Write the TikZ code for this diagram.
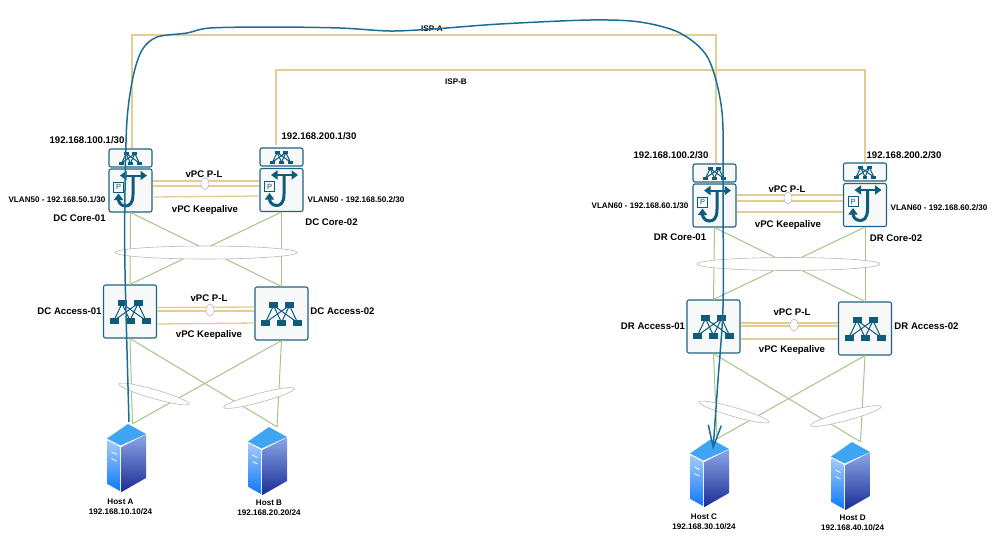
\documentclass[tikz,border=0pt]{standalone}
\usepackage{fontspec}
\setmainfont{Liberation Sans}
\usetikzlibrary{arrows.meta,shapes.geometric}
\definecolor{ciscoteal}{HTML}{0F5B7E}
\definecolor{boxedge}{HTML}{1F6283}
\definecolor{boxfill}{HTML}{F7F8F8}
\definecolor{isptan}{HTML}{E3CD96}
\definecolor{linkgreen}{HTML}{A3C586}
\definecolor{flowblue}{HTML}{1B6F97}
\definecolor{srvtop}{HTML}{3FA4F2}
\definecolor{srvleftA}{HTML}{A5CCFA}
\definecolor{srvleftB}{HTML}{0F78FA}
\definecolor{srvrightA}{HTML}{8CA6E6}
\definecolor{srvrightB}{HTML}{1A2C96}
\tikzset{
	devbox/.style={draw=boxedge,line width=1.1pt,rounded corners=2pt,fill=boxfill,inner sep=0pt},
	topbox/.style={devbox,minimum width=43,minimum height=18},
	corebox/.style={devbox,minimum size=43},
	accessbox/.style={devbox,minimum size=53},
	hostbox/.style={inner sep=0pt,minimum width=39,minimum height=68},
	isp/.style={draw=isptan,line width=1.3pt},
	link/.style={draw=linkgreen,line width=1pt},
	lag/.style={ellipse,draw=gray!55,line width=.6pt,fill=white,inner sep=0pt},
	biglabel/.style={font=\bfseries\fontsize{9.6}{11}\selectfont,inner sep=0pt},
	smalllabel/.style={font=\bfseries\fontsize{8.1}{10}\selectfont,inner sep=0pt},
	pics/netmark/.style={code={
		\foreach \tx in {-8,8} {
			\foreach \bx in {-16,0,16} {
				\draw[ciscoteal,line width=1pt] (\tx,-8) -- (\bx,9);
			}
			\fill[ciscoteal] (\tx-4.5,-11.5) rectangle (\tx+4.5,-5.5);
		}
		\foreach \bx in {-16,0,16} {
			\fill[ciscoteal] (\bx-4.5,6.5) rectangle (\bx+4.5,12.5);
		}
	}},
	pics/coremark/.style={code={
		\draw[ciscoteal,line width=2pt,{Triangle[length=6.5pt,width=9pt]}-{Triangle[length=6.5pt,width=9pt]}] (-10.5,-15) -- (16.5,-15);
		\draw[ciscoteal,line width=3pt,-{Triangle[length=6.5pt,width=9pt]}] (2.5,-15) -- (2.5,4) .. controls (2.5,13) and (-1,15.5) .. (-5,15.5) .. controls (-10,15.5) and (-12,11) .. (-12,3);
		\node[draw=ciscoteal,line width=.7pt,fill=boxfill,text=ciscoteal,font=\fontsize{7.5}{8}\selectfont,minimum size=10,inner sep=0pt] (p) at (-12,-3.5) {P};
	}},
	pics/servermark/.style={code={
		\shade[top color=srvleftA,bottom color=srvleftB] (-19,-18) -- (-6.5,-11) -- (-6.5,33) -- (-19,26) -- cycle;
		\shade[top color=srvrightA,bottom color=srvrightB] (-5,-11) -- (19.5,-23.5) -- (19.5,20) -- (-5,34) -- cycle;
		\fill[srvtop] (1.5,-34) -- (19.5,-24) -- (-6,-12.5) -- (-19.5,-19.5) -- cycle;
		\draw[white,line width=.7pt] (-15,-6) -- (-10,-3.5) (-15,.5) -- (-10,3);
	}}
}
\begin{document}
\begin{tikzpicture}[x=1pt,y=-1pt]
	\useasboundingbox (0,0) rectangle (998,542);
	\node[topbox] (dcTop01) at (130.5,158) {};
	\node[topbox] (dcTop02) at (281.5,157) {};
	\node[corebox] (dcCore01) at (130.5,190.5) {};
	\node[corebox] (dcCore02) at (281.5,190) {};
	\node[accessbox] (dcAccess01) at (130,311.5) {};
	\node[accessbox] (dcAccess02) at (281.5,313.5) {};
	\node[hostbox] (hostA) at (126.5,458) {};
	\node[hostbox] (hostB) at (267.5,461) {};
	\node[topbox] (drTop01) at (714.5,173) {};
	\node[topbox] (drTop02) at (865,172) {};
	\node[corebox] (drCore01) at (714.5,205.5) {};
	\node[corebox] (drCore02) at (865,205) {};
	\node[accessbox] (drAccess01) at (713.5,326.5) {};
	\node[accessbox] (drAccess02) at (865,328.5) {};
	\node[hostbox] (hostC) at (709.5,473) {};
	\node[hostbox] (hostD) at (850.5,476) {};

	\foreach \nm in {dcTop01,dcTop02,drTop01,drTop02} {
		\pic[scale=.55] (\nm Icon) at (\nm) {netmark};
	}
	\foreach \nm in {dcAccess01,dcAccess02,drAccess01,drAccess02} {
		\pic (\nm Icon) at (\nm) {netmark};
	}
	\foreach \nm in {dcCore01,dcCore02,drCore01,drCore02} {
		\pic (\nm Icon) at (\nm) {coremark};
	}
	\foreach \nm in {hostA,hostB,hostC,hostD} {
		\pic (\nm Icon) at (\nm) {servermark};
	}

	\foreach \up/\lo in {dcCore01/dcAccess01,dcCore01/dcAccess02,dcCore02/dcAccess01,dcCore02/dcAccess02,drCore01/drAccess01,drCore01/drAccess02,drCore02/drAccess01,drCore02/drAccess02} {
		\draw[link] (\up.south) -- (\lo.north);
	}
	\draw[link] (dcAccess01.south) -- ([xshift=6]hostA.north);
	\draw[link] (dcAccess01.south) -- ([xshift=9.5]hostB.north);
	\draw[link] (dcAccess02.south) -- ([xshift=6]hostA.north);
	\draw[link] (dcAccess02.south) -- ([xshift=9.5]hostB.north);
	\draw[link] (drAccess01.south) -- ([xshift=7.5]hostC.north);
	\draw[link] (drAccess01.south) -- ([xshift=10]hostD.north);
	\draw[link] (drAccess02.south) -- ([xshift=7.5]hostC.north);
	\draw[link] (drAccess02.south) -- ([xshift=10]hostD.north);

	\node[lag,minimum width=182,minimum height=13] (dcCoreLag) at (206,252.5) {};
	\node[lag,minimum width=73,minimum height=9,rotate=-16] (dcHostLagA) at (154,394) {};
	\node[lag,minimum width=73,minimum height=9,rotate=15] (dcHostLagB) at (259,398) {};
	\node[lag,minimum width=183,minimum height=13] (drCoreLag) at (788.5,264) {};
	\node[lag,minimum width=73,minimum height=9,rotate=-16] (drHostLagA) at (734,412) {};
	\node[lag,minimum width=73,minimum height=9,rotate=15] (drHostLagB) at (846,416) {};

	\coordinate (ispA) at (432,35);
	\coordinate (ispB) at (456,70);
	\draw[isp] ([xshift=1.5]dcTop01.north) |- (ispA) -| ([xshift=1.5]drTop01.north);
	\draw[isp] ([xshift=-5.5,yshift=2]dcTop02.north) |- (ispB) -| (drTop02.north);

	\draw[isp] ([yshift=9.5]dcCore01.east) -- ([yshift=9]dcCore02.west);
	\draw[isp] ([yshift=4.5]dcCore01.east) -- ([yshift=4]dcCore02.west);
	\draw[isp] ([yshift=-6.5]dcCore01.east) -- ([yshift=-6]dcCore02.west);
	\draw[isp] ([yshift=4]dcAccess01.east) -- ([yshift=6.5]dcAccess02.west);
	\draw[isp] ([yshift=.5]dcAccess01.east) -- ([yshift=2.5]dcAccess02.west);
	\draw[isp] ([yshift=-12.5]dcAccess01.east) -- ([yshift=-9.5]dcAccess02.west);
	\draw[isp] ([yshift=10.5]drCore01.east) -- ([yshift=10]drCore02.west);
	\draw[isp] ([yshift=4.5]drCore01.east) -- ([yshift=4]drCore02.west);
	\draw[isp] ([yshift=-6.5]drCore01.east) -- ([yshift=-7]drCore02.west);
	\draw[isp] ([yshift=3.5]drAccess01.east) -- ([yshift=5.5]drAccess02.west);
	\draw[isp] ([yshift=.5]drAccess01.east) -- ([yshift=2.5]drAccess02.west);
	\draw[isp] ([yshift=-12.5]drAccess01.east) -- ([yshift=-10.5]drAccess02.west);

	\node[lag,minimum width=8,minimum height=12] (dcCorePeer) at (205,183.5) {};
	\node[lag,minimum width=8,minimum height=12] (dcAccessPeer) at (210,310) {};
	\node[lag,minimum width=8,minimum height=12] (drCorePeer) at (788,198) {};
	\node[lag,minimum width=8,minimum height=12] (drAccessPeer) at (794,325) {};

	\node[smalllabel] (ispAText) at (432,29) {ISP-A};
	\node[smalllabel] (ispBText) at (456,82) {ISP-B};

	\node[biglabel] (dcIp01) at (87,140) {192.168.100.1/30};
	\node[biglabel] (dcIp02) at (319,136) {192.168.200.1/30};
	\node[biglabel] (drIp01) at (671,155) {192.168.100.2/30};
	\node[biglabel] (drIp02) at (904,155) {192.168.200.2/30};
	\node[smalllabel] (dcVlan01) at (57,200) {VLAN50 - 192.168.50.1/30};
	\node[smalllabel] (dcVlan02) at (356,200) {VLAN50 - 192.168.50.2/30};
	\node[smalllabel] (drVlan01) at (640,206) {VLAN60 - 192.168.60.1/30};
	\node[smalllabel] (drVlan02) at (939,208) {VLAN60 - 192.168.60.2/30};
	\node[biglabel] (dcCoreText01) at (79.5,218.5) {DC Core-01};
	\node[biglabel] (dcCoreText02) at (331.5,222) {DC Core-02};
	\node[biglabel] (drCoreText01) at (680,237) {DR Core-01};
	\node[biglabel] (drCoreText02) at (896,238) {DR Core-02};
	\node[biglabel] (dcAccessText01) at (69.5,311) {DC Access-01};
	\node[biglabel] (dcAccessText02) at (342.5,311) {DC Access-02};
	\node[biglabel] (drAccessText01) at (653,326) {DR Access-01};
	\node[biglabel] (drAccessText02) at (926.5,326) {DR Access-02};

	\node[biglabel] (dcCorePl) at (204,174) {vPC P-L};
	\node[biglabel] (dcCoreKeep) at (205,210) {vPC Keepalive};
	\node[biglabel] (dcAccessPl) at (209,298) {vPC P-L};
	\node[biglabel] (dcAccessKeep) at (209,335) {vPC Keepalive};
	\node[biglabel] (drCorePl) at (787,189) {vPC P-L};
	\node[biglabel] (drCoreKeep) at (788,225) {vPC Keepalive};
	\node[biglabel] (drAccessPl) at (792,312) {vPC P-L};
	\node[biglabel] (drAccessKeep) at (792,350) {vPC Keepalive};

	\node[smalllabel] (hostAName) at (120.5,501.7) {Host A};
	\node[smalllabel] (hostAIp) at (120.5,511.7) {192.168.10.10/24};
	\node[smalllabel] (hostBName) at (269,503) {Host B};
	\node[smalllabel] (hostBIp) at (269,513) {192.168.20.20/24};
	\node[smalllabel] (hostCName) at (704,517) {Host C};
	\node[smalllabel] (hostCIp) at (704,527) {192.168.30.10/24};
	\node[smalllabel] (hostDName) at (852.7,518) {Host D};
	\node[smalllabel] (hostDIp) at (852.7,528) {192.168.40.10/24};

	\draw[flowblue,line width=1.5pt,-{Straight Barb[length=22pt,width=13pt]}] plot[smooth,tension=.5] coordinates {([shift={(2.5,-2)}]hostA.north) (125,270) (125,190) (127,120) (133,77) (142,50) (157,37) (187,33) (210,28) (273,27) (340,28) (390,31) (433,29) (500,24) (590,20) (640,22) (680,33) (708,58) (722,112) (723,200) (723,307) (718,380) ([shift={(3.5,11)}]hostC.north)};
\end{tikzpicture}
\end{document}
